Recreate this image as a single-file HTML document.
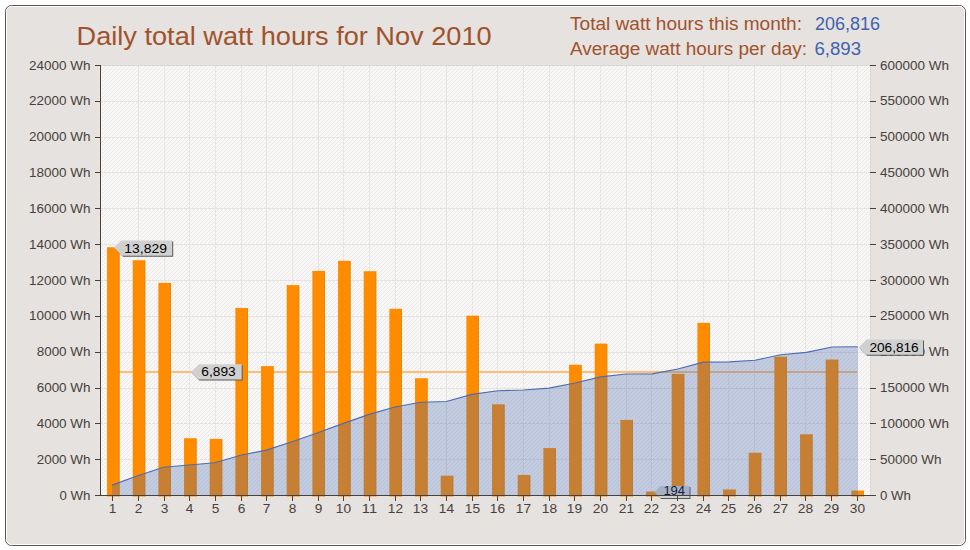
<!DOCTYPE html>
<html><head><meta charset="utf-8"><title>Daily total watt hours for Nov 2010</title>
<style>html,body{margin:0;padding:0;background:#fff;width:970px;height:550px;overflow:hidden}
svg{display:block;font-family:"Liberation Sans",sans-serif}</style></head><body>
<svg width="970" height="550" viewBox="0 0 970 550">
<defs>
<pattern id="stripe" width="4" height="4" patternUnits="userSpaceOnUse" x="0" y="0">
<rect width="4" height="4" fill="#f8f7f6"/>
<rect x="0" y="3" width="1" height="1" fill="#eaeaea"/><rect x="1" y="2" width="1" height="1" fill="#eaeaea"/>
<rect x="2" y="1" width="1" height="1" fill="#eaeaea"/><rect x="3" y="0" width="1" height="1" fill="#eaeaea"/>
</pattern>
</defs>

<rect x="5.5" y="5.5" width="960" height="540" rx="6" ry="6" fill="#e6e2df" stroke="#5e564f" stroke-width="1"/>
<rect x="6.5" y="6.5" width="958" height="538" rx="5" ry="5" fill="none" stroke="#ffffff" stroke-width="1"/>
<text x="76.60" y="44.60" font-size="26" fill="#a0522d" textLength="415.00" lengthAdjust="spacingAndGlyphs">Daily total watt hours for Nov 2010</text>
<text x="570.00" y="29.50" font-size="18.7" fill="#a0522d" textLength="232.00" lengthAdjust="spacingAndGlyphs">Total watt hours this month:</text>
<text x="570.00" y="55.20" font-size="18.7" fill="#a0522d" textLength="237.00" lengthAdjust="spacingAndGlyphs">Average watt hours per day:</text>
<text x="815.00" y="29.50" font-size="18.7" fill="#3f63ad" textLength="65.00" lengthAdjust="spacingAndGlyphs">206,816</text>
<text x="814.50" y="55.20" font-size="18.7" fill="#3f63ad" textLength="46.50" lengthAdjust="spacingAndGlyphs">6,893</text>
<rect x="101.0" y="66.0" width="769.0" height="429.0" fill="url(#stripe)"/><rect x="101.0" y="65.0" width="769.0" height="1" fill="#dcd7d3"/><rect x="870.0" y="66.0" width="1" height="429.0" fill="#dfdad7"/>
<path d="M100.0,459.5H870.0M100.0,423.5H870.0M100.0,388.5H870.0M100.0,352.5H870.0M100.0,316.5H870.0M100.0,280.5H870.0M100.0,244.5H870.0M100.0,208.5H870.0M100.0,172.5H870.0M100.0,137.5H870.0M100.0,101.5H870.0M138.5,66.0V495.0M164.5,66.0V495.0M189.5,66.0V495.0M215.5,66.0V495.0M241.5,66.0V495.0M266.5,66.0V495.0M292.5,66.0V495.0M318.5,66.0V495.0M343.5,66.0V495.0M369.5,66.0V495.0M395.5,66.0V495.0M420.5,66.0V495.0M446.5,66.0V495.0M472.5,66.0V495.0M497.5,66.0V495.0M523.5,66.0V495.0M549.5,66.0V495.0M574.5,66.0V495.0M600.5,66.0V495.0M626.5,66.0V495.0M651.5,66.0V495.0M677.5,66.0V495.0M703.5,66.0V495.0M728.5,66.0V495.0M754.5,66.0V495.0M780.5,66.0V495.0M805.5,66.0V495.0M831.5,66.0V495.0M857.5,66.0V495.0" stroke="#e6dfdd" stroke-width="1" stroke-dasharray="3,1" fill="none"/>
<path d="M112.83,371.90H857.17" stroke="#fcbd77" stroke-width="2" fill="none"/>
<rect x="107.03" y="247.23" width="12.6" height="249.27" fill="#ff8c00"/><rect x="118.73" y="247.73" width="0.9" height="248.77" fill="#d0820f" fill-opacity="0.6"/>
<rect x="132.70" y="260.20" width="12.6" height="236.30" fill="#ff8c00"/><rect x="144.40" y="260.70" width="0.9" height="235.80" fill="#d0820f" fill-opacity="0.6"/>
<rect x="158.37" y="282.90" width="12.6" height="213.60" fill="#ff8c00"/><rect x="170.07" y="283.40" width="0.9" height="213.10" fill="#d0820f" fill-opacity="0.6"/>
<rect x="184.03" y="438.20" width="12.6" height="58.30" fill="#ff8c00"/><rect x="195.73" y="438.70" width="0.9" height="57.80" fill="#d0820f" fill-opacity="0.6"/>
<rect x="209.70" y="438.92" width="12.6" height="57.58" fill="#ff8c00"/><rect x="221.40" y="439.42" width="0.9" height="57.08" fill="#d0820f" fill-opacity="0.6"/>
<rect x="235.37" y="308.00" width="12.6" height="188.50" fill="#ff8c00"/><rect x="247.07" y="308.50" width="0.9" height="188.00" fill="#d0820f" fill-opacity="0.6"/>
<rect x="261.03" y="366.10" width="12.6" height="130.40" fill="#ff8c00"/><rect x="272.73" y="366.60" width="0.9" height="129.90" fill="#d0820f" fill-opacity="0.6"/>
<rect x="286.70" y="285.10" width="12.6" height="211.40" fill="#ff8c00"/><rect x="298.40" y="285.60" width="0.9" height="210.90" fill="#d0820f" fill-opacity="0.6"/>
<rect x="312.37" y="270.90" width="12.6" height="225.60" fill="#ff8c00"/><rect x="324.07" y="271.40" width="0.9" height="225.10" fill="#d0820f" fill-opacity="0.6"/>
<rect x="338.03" y="260.80" width="12.6" height="235.70" fill="#ff8c00"/><rect x="349.73" y="261.30" width="0.9" height="235.20" fill="#d0820f" fill-opacity="0.6"/>
<rect x="363.70" y="271.20" width="12.6" height="225.30" fill="#ff8c00"/><rect x="375.40" y="271.70" width="0.9" height="224.80" fill="#d0820f" fill-opacity="0.6"/>
<rect x="389.37" y="308.80" width="12.6" height="187.70" fill="#ff8c00"/><rect x="401.07" y="309.30" width="0.9" height="187.20" fill="#d0820f" fill-opacity="0.6"/>
<rect x="415.03" y="378.20" width="12.6" height="118.30" fill="#ff8c00"/><rect x="426.73" y="378.70" width="0.9" height="117.80" fill="#d0820f" fill-opacity="0.6"/>
<rect x="440.70" y="475.65" width="12.6" height="20.85" fill="#ff8c00"/><rect x="452.40" y="476.15" width="0.9" height="20.35" fill="#d0820f" fill-opacity="0.6"/>
<rect x="466.37" y="315.65" width="12.6" height="180.85" fill="#ff8c00"/><rect x="478.07" y="316.15" width="0.9" height="180.35" fill="#d0820f" fill-opacity="0.6"/>
<rect x="492.03" y="404.34" width="12.6" height="92.16" fill="#ff8c00"/><rect x="503.73" y="404.84" width="0.9" height="91.66" fill="#d0820f" fill-opacity="0.6"/>
<rect x="517.70" y="474.93" width="12.6" height="21.57" fill="#ff8c00"/><rect x="529.40" y="475.43" width="0.9" height="21.07" fill="#d0820f" fill-opacity="0.6"/>
<rect x="543.37" y="448.06" width="12.6" height="48.44" fill="#ff8c00"/><rect x="555.07" y="448.56" width="0.9" height="47.94" fill="#d0820f" fill-opacity="0.6"/>
<rect x="569.03" y="364.75" width="12.6" height="131.75" fill="#ff8c00"/><rect x="580.73" y="365.25" width="0.9" height="131.25" fill="#d0820f" fill-opacity="0.6"/>
<rect x="594.70" y="343.60" width="12.6" height="152.90" fill="#ff8c00"/><rect x="606.40" y="344.10" width="0.9" height="152.40" fill="#d0820f" fill-opacity="0.6"/>
<rect x="620.37" y="419.93" width="12.6" height="76.57" fill="#ff8c00"/><rect x="632.07" y="420.43" width="0.9" height="76.07" fill="#d0820f" fill-opacity="0.6"/>
<rect x="646.03" y="491.52" width="12.6" height="4.98" fill="#ff8c00"/><rect x="657.73" y="492.02" width="0.9" height="4.48" fill="#d0820f" fill-opacity="0.6"/>
<rect x="671.70" y="373.88" width="12.6" height="122.62" fill="#ff8c00"/><rect x="683.40" y="374.38" width="0.9" height="122.12" fill="#d0820f" fill-opacity="0.6"/>
<rect x="697.37" y="322.82" width="12.6" height="173.68" fill="#ff8c00"/><rect x="709.07" y="323.32" width="0.9" height="173.18" fill="#d0820f" fill-opacity="0.6"/>
<rect x="723.03" y="489.45" width="12.6" height="7.05" fill="#ff8c00"/><rect x="734.73" y="489.95" width="0.9" height="6.55" fill="#d0820f" fill-opacity="0.6"/>
<rect x="748.70" y="452.72" width="12.6" height="43.78" fill="#ff8c00"/><rect x="760.40" y="453.22" width="0.9" height="43.28" fill="#d0820f" fill-opacity="0.6"/>
<rect x="774.37" y="356.68" width="12.6" height="139.82" fill="#ff8c00"/><rect x="786.07" y="357.18" width="0.9" height="139.32" fill="#d0820f" fill-opacity="0.6"/>
<rect x="800.03" y="434.26" width="12.6" height="62.24" fill="#ff8c00"/><rect x="811.73" y="434.76" width="0.9" height="61.74" fill="#d0820f" fill-opacity="0.6"/>
<rect x="825.70" y="359.55" width="12.6" height="136.95" fill="#ff8c00"/><rect x="837.40" y="360.05" width="0.9" height="136.45" fill="#d0820f" fill-opacity="0.6"/>
<rect x="851.37" y="490.52" width="12.6" height="5.98" fill="#ff8c00"/><rect x="863.07" y="491.02" width="0.9" height="5.48" fill="#d0820f" fill-opacity="0.6"/>
<path d="M114.10,247.80L121.30,240.60H172.20V255.80H122.10Z" fill="#5a5a5a" transform="translate(1,1)"/><path d="M114.10,247.80L121.30,240.60H172.20V255.80H122.10Z" fill="#d0d0d0"/><text x="124.30" y="252.80" font-size="12.6" fill="#000" textLength="42.60" lengthAdjust="spacingAndGlyphs">13,829</text>
<path d="M191.00,372.00L198.80,364.20H241.70V379.40H198.40Z" fill="#5a5a5a" transform="translate(1,1)"/><path d="M191.00,372.00L198.80,364.20H241.70V379.40H198.40Z" fill="#d0d0d0"/><text x="201.30" y="376.40" font-size="12.6" fill="#000" textLength="34.40" lengthAdjust="spacingAndGlyphs">6,893</text>
<path d="M654.30,492.20L660.50,486.00H689.50V498.00H660.10Z" fill="#5a5a5a" transform="translate(1,1)"/><path d="M654.30,492.20L660.50,486.00H689.50V498.00H660.10Z" fill="#d0d0d0"/><text x="663.40" y="494.70" font-size="12.6" fill="#000" textLength="21.60" lengthAdjust="spacingAndGlyphs">194</text>
<path d="M112.00,495.0L112.00,485.09L137.72,475.70L163.44,467.21L189.16,464.96L214.88,462.73L240.60,455.25L266.32,450.09L292.04,441.70L317.76,432.73L343.48,423.36L369.20,414.41L394.92,406.96L420.64,402.29L446.36,401.52L472.08,394.39L497.80,390.79L523.52,389.99L549.24,388.13L574.96,382.95L600.68,376.93L626.40,373.95L652.12,373.81L677.84,369.00L703.56,362.16L729.28,361.93L755.00,360.25L780.72,354.76L806.44,352.34L832.16,346.96L857.88,346.78L857.88,495.0Z" fill="#4466aa" fill-opacity="0.3"/>
<path d="M112.00,485.09L137.72,475.70L163.44,467.21L189.16,464.96L214.88,462.73L240.60,455.25L266.32,450.09L292.04,441.70L317.76,432.73L343.48,423.36L369.20,414.41L394.92,406.96L420.64,402.29L446.36,401.52L472.08,394.39L497.80,390.79L523.52,389.99L549.24,388.13L574.96,382.95L600.68,376.93L626.40,373.95L652.12,373.81L677.84,369.00L703.56,362.16L729.28,361.93L755.00,360.25L780.72,354.76L806.44,352.34L832.16,346.96L857.88,346.78" stroke="#4d6cb0" stroke-width="1.15" fill="none" stroke-linejoin="round"/>
<path d="M100.5,65.0V495.5M95,495.5H876" stroke="#48413b" stroke-width="1" fill="none"/>
<path d="M95,495.5H100.0M870.0,495.5H876M95,459.5H100.0M870.0,459.5H876M95,423.5H100.0M870.0,423.5H876M95,388.5H100.0M870.0,388.5H876M95,352.5H100.0M870.0,352.5H876M95,316.5H100.0M870.0,316.5H876M95,280.5H100.0M870.0,280.5H876M95,244.5H100.0M870.0,244.5H876M95,208.5H100.0M870.0,208.5H876M95,172.5H100.0M870.0,172.5H876M95,137.5H100.0M870.0,137.5H876M95,101.5H100.0M870.0,101.5H876M95,65.5H100.0M870.0,65.5H876M112.5,495.0V501M138.5,495.0V501M164.5,495.0V501M189.5,495.0V501M215.5,495.0V501M241.5,495.0V501M266.5,495.0V501M292.5,495.0V501M318.5,495.0V501M343.5,495.0V501M369.5,495.0V501M395.5,495.0V501M420.5,495.0V501M446.5,495.0V501M472.5,495.0V501M497.5,495.0V501M523.5,495.0V501M549.5,495.0V501M574.5,495.0V501M600.5,495.0V501M626.5,495.0V501M651.5,495.0V501M677.5,495.0V501M703.5,495.0V501M728.5,495.0V501M754.5,495.0V501M780.5,495.0V501M805.5,495.0V501M831.5,495.0V501M857.5,495.0V501" stroke="#48413b" stroke-width="1" fill="none"/>
<text x="90.50" y="499.60" font-size="12.4" fill="#48413b" text-anchor="end" textLength="30.93" lengthAdjust="spacingAndGlyphs">0 Wh</text>
<text x="880.00" y="499.60" font-size="12.4" fill="#48413b" textLength="30.93" lengthAdjust="spacingAndGlyphs">0 Wh</text>
<text x="90.50" y="463.77" font-size="12.4" fill="#48413b" text-anchor="end" textLength="53.82" lengthAdjust="spacingAndGlyphs">2000 Wh</text>
<text x="880.00" y="463.77" font-size="12.4" fill="#48413b" textLength="61.45" lengthAdjust="spacingAndGlyphs">50000 Wh</text>
<text x="90.50" y="427.93" font-size="12.4" fill="#48413b" text-anchor="end" textLength="53.82" lengthAdjust="spacingAndGlyphs">4000 Wh</text>
<text x="880.00" y="427.93" font-size="12.4" fill="#48413b" textLength="69.08" lengthAdjust="spacingAndGlyphs">100000 Wh</text>
<text x="90.50" y="392.10" font-size="12.4" fill="#48413b" text-anchor="end" textLength="53.82" lengthAdjust="spacingAndGlyphs">6000 Wh</text>
<text x="880.00" y="392.10" font-size="12.4" fill="#48413b" textLength="69.08" lengthAdjust="spacingAndGlyphs">150000 Wh</text>
<text x="90.50" y="356.27" font-size="12.4" fill="#48413b" text-anchor="end" textLength="53.82" lengthAdjust="spacingAndGlyphs">8000 Wh</text>
<text x="880.00" y="356.27" font-size="12.4" fill="#48413b" textLength="69.08" lengthAdjust="spacingAndGlyphs">200000 Wh</text>
<text x="90.50" y="320.43" font-size="12.4" fill="#48413b" text-anchor="end" textLength="61.45" lengthAdjust="spacingAndGlyphs">10000 Wh</text>
<text x="880.00" y="320.43" font-size="12.4" fill="#48413b" textLength="69.08" lengthAdjust="spacingAndGlyphs">250000 Wh</text>
<text x="90.50" y="284.60" font-size="12.4" fill="#48413b" text-anchor="end" textLength="61.45" lengthAdjust="spacingAndGlyphs">12000 Wh</text>
<text x="880.00" y="284.60" font-size="12.4" fill="#48413b" textLength="69.08" lengthAdjust="spacingAndGlyphs">300000 Wh</text>
<text x="90.50" y="248.77" font-size="12.4" fill="#48413b" text-anchor="end" textLength="61.45" lengthAdjust="spacingAndGlyphs">14000 Wh</text>
<text x="880.00" y="248.77" font-size="12.4" fill="#48413b" textLength="69.08" lengthAdjust="spacingAndGlyphs">350000 Wh</text>
<text x="90.50" y="212.93" font-size="12.4" fill="#48413b" text-anchor="end" textLength="61.45" lengthAdjust="spacingAndGlyphs">16000 Wh</text>
<text x="880.00" y="212.93" font-size="12.4" fill="#48413b" textLength="69.08" lengthAdjust="spacingAndGlyphs">400000 Wh</text>
<text x="90.50" y="177.10" font-size="12.4" fill="#48413b" text-anchor="end" textLength="61.45" lengthAdjust="spacingAndGlyphs">18000 Wh</text>
<text x="880.00" y="177.10" font-size="12.4" fill="#48413b" textLength="69.08" lengthAdjust="spacingAndGlyphs">450000 Wh</text>
<text x="90.50" y="141.27" font-size="12.4" fill="#48413b" text-anchor="end" textLength="61.45" lengthAdjust="spacingAndGlyphs">20000 Wh</text>
<text x="880.00" y="141.27" font-size="12.4" fill="#48413b" textLength="69.08" lengthAdjust="spacingAndGlyphs">500000 Wh</text>
<text x="90.50" y="105.43" font-size="12.4" fill="#48413b" text-anchor="end" textLength="61.45" lengthAdjust="spacingAndGlyphs">22000 Wh</text>
<text x="880.00" y="105.43" font-size="12.4" fill="#48413b" textLength="69.08" lengthAdjust="spacingAndGlyphs">550000 Wh</text>
<text x="90.50" y="69.60" font-size="12.4" fill="#48413b" text-anchor="end" textLength="61.45" lengthAdjust="spacingAndGlyphs">24000 Wh</text>
<text x="880.00" y="69.60" font-size="12.4" fill="#48413b" textLength="69.08" lengthAdjust="spacingAndGlyphs">600000 Wh</text>
<text x="112.50" y="512.70" font-size="12.4" fill="#48413b" text-anchor="middle" textLength="7.63" lengthAdjust="spacingAndGlyphs">1</text>
<text x="138.50" y="512.70" font-size="12.4" fill="#48413b" text-anchor="middle" textLength="7.63" lengthAdjust="spacingAndGlyphs">2</text>
<text x="164.50" y="512.70" font-size="12.4" fill="#48413b" text-anchor="middle" textLength="7.63" lengthAdjust="spacingAndGlyphs">3</text>
<text x="189.50" y="512.70" font-size="12.4" fill="#48413b" text-anchor="middle" textLength="7.63" lengthAdjust="spacingAndGlyphs">4</text>
<text x="215.50" y="512.70" font-size="12.4" fill="#48413b" text-anchor="middle" textLength="7.63" lengthAdjust="spacingAndGlyphs">5</text>
<text x="241.50" y="512.70" font-size="12.4" fill="#48413b" text-anchor="middle" textLength="7.63" lengthAdjust="spacingAndGlyphs">6</text>
<text x="266.50" y="512.70" font-size="12.4" fill="#48413b" text-anchor="middle" textLength="7.63" lengthAdjust="spacingAndGlyphs">7</text>
<text x="292.50" y="512.70" font-size="12.4" fill="#48413b" text-anchor="middle" textLength="7.63" lengthAdjust="spacingAndGlyphs">8</text>
<text x="318.50" y="512.70" font-size="12.4" fill="#48413b" text-anchor="middle" textLength="7.63" lengthAdjust="spacingAndGlyphs">9</text>
<text x="343.50" y="512.70" font-size="12.4" fill="#48413b" text-anchor="middle" textLength="15.26" lengthAdjust="spacingAndGlyphs">10</text>
<text x="369.50" y="512.70" font-size="12.4" fill="#48413b" text-anchor="middle" textLength="15.26" lengthAdjust="spacingAndGlyphs">11</text>
<text x="395.50" y="512.70" font-size="12.4" fill="#48413b" text-anchor="middle" textLength="15.26" lengthAdjust="spacingAndGlyphs">12</text>
<text x="420.50" y="512.70" font-size="12.4" fill="#48413b" text-anchor="middle" textLength="15.26" lengthAdjust="spacingAndGlyphs">13</text>
<text x="446.50" y="512.70" font-size="12.4" fill="#48413b" text-anchor="middle" textLength="15.26" lengthAdjust="spacingAndGlyphs">14</text>
<text x="472.50" y="512.70" font-size="12.4" fill="#48413b" text-anchor="middle" textLength="15.26" lengthAdjust="spacingAndGlyphs">15</text>
<text x="497.50" y="512.70" font-size="12.4" fill="#48413b" text-anchor="middle" textLength="15.26" lengthAdjust="spacingAndGlyphs">16</text>
<text x="523.50" y="512.70" font-size="12.4" fill="#48413b" text-anchor="middle" textLength="15.26" lengthAdjust="spacingAndGlyphs">17</text>
<text x="549.50" y="512.70" font-size="12.4" fill="#48413b" text-anchor="middle" textLength="15.26" lengthAdjust="spacingAndGlyphs">18</text>
<text x="574.50" y="512.70" font-size="12.4" fill="#48413b" text-anchor="middle" textLength="15.26" lengthAdjust="spacingAndGlyphs">19</text>
<text x="600.50" y="512.70" font-size="12.4" fill="#48413b" text-anchor="middle" textLength="15.26" lengthAdjust="spacingAndGlyphs">20</text>
<text x="626.50" y="512.70" font-size="12.4" fill="#48413b" text-anchor="middle" textLength="15.26" lengthAdjust="spacingAndGlyphs">21</text>
<text x="651.50" y="512.70" font-size="12.4" fill="#48413b" text-anchor="middle" textLength="15.26" lengthAdjust="spacingAndGlyphs">22</text>
<text x="677.50" y="512.70" font-size="12.4" fill="#48413b" text-anchor="middle" textLength="15.26" lengthAdjust="spacingAndGlyphs">23</text>
<text x="703.50" y="512.70" font-size="12.4" fill="#48413b" text-anchor="middle" textLength="15.26" lengthAdjust="spacingAndGlyphs">24</text>
<text x="728.50" y="512.70" font-size="12.4" fill="#48413b" text-anchor="middle" textLength="15.26" lengthAdjust="spacingAndGlyphs">25</text>
<text x="754.50" y="512.70" font-size="12.4" fill="#48413b" text-anchor="middle" textLength="15.26" lengthAdjust="spacingAndGlyphs">26</text>
<text x="780.50" y="512.70" font-size="12.4" fill="#48413b" text-anchor="middle" textLength="15.26" lengthAdjust="spacingAndGlyphs">27</text>
<text x="805.50" y="512.70" font-size="12.4" fill="#48413b" text-anchor="middle" textLength="15.26" lengthAdjust="spacingAndGlyphs">28</text>
<text x="831.50" y="512.70" font-size="12.4" fill="#48413b" text-anchor="middle" textLength="15.26" lengthAdjust="spacingAndGlyphs">29</text>
<text x="857.50" y="512.70" font-size="12.4" fill="#48413b" text-anchor="middle" textLength="15.26" lengthAdjust="spacingAndGlyphs">30</text>
<path d="M858.70,347.40L866.60,339.50H923.00V354.80H866.10Z" fill="#5a5a5a" transform="translate(1,1)"/><path d="M858.70,347.40L866.60,339.50H923.00V354.80H866.10Z" fill="#d0d0d0"/><text x="869.40" y="351.60" font-size="12.6" fill="#000" textLength="49.30" lengthAdjust="spacingAndGlyphs">206,816</text>
</svg></body></html>
